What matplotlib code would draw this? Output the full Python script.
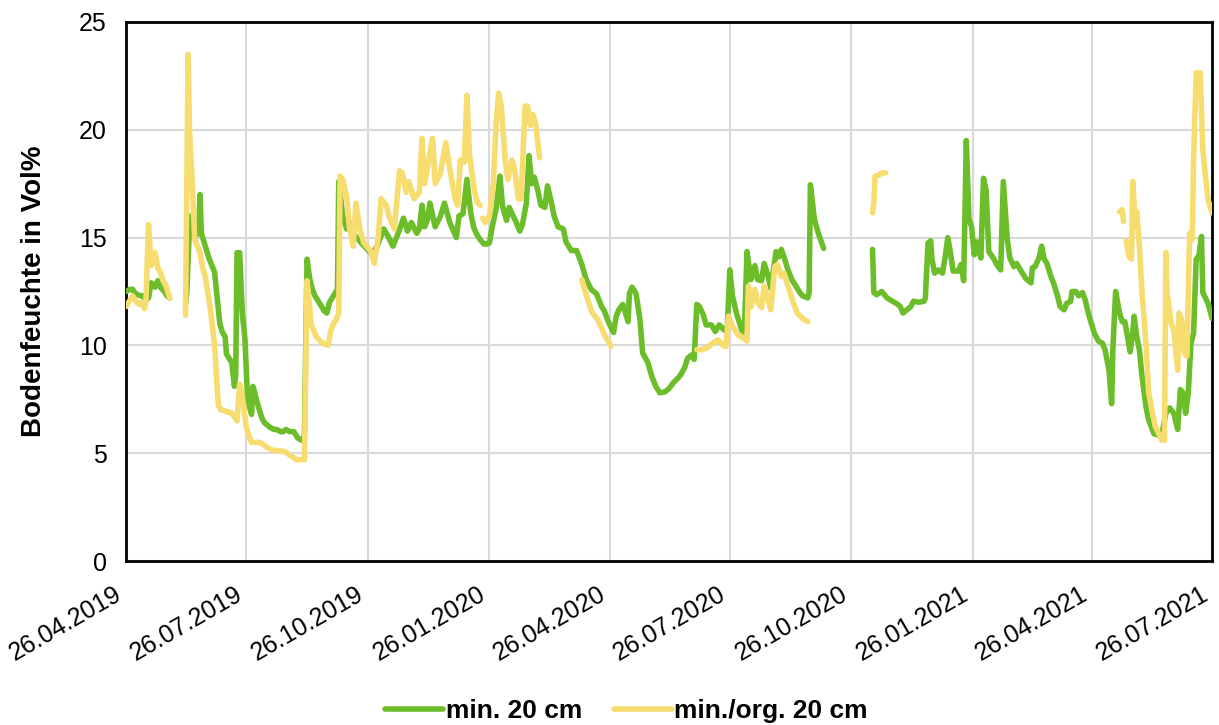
import numpy as np
import matplotlib
matplotlib.use("Agg")
import matplotlib.pyplot as plt
import matplotlib.dates as mdates
from datetime import date, timedelta

# x values: days since 26.04.2019, None in values = gap in the logger record
start = date(2019, 4, 26)

green_days = [0, 3, 5, 7, 9, 11, 13, 15, 17, 19, 21, 22, 24, 26, 29, 31, 33,
              39,
              45, 46, 48, 49, 52, 55, 56, 57, 60, 63, 67, 71, 73, 75, 76, 78, 80, 82, 83, 84, 86, 88,
              90, 92, 95, 96, 97, 99, 101, 103, 105, 109, 112, 114, 117, 119, 121, 124, 127, 130, 133, 135,
              137, 139, 141, 143, 147, 150, 152, 154, 157, 159, 160, 161, 164, 167, 169, 173, 176, 178,
              182, 185, 187, 190, 195, 198, 202, 206, 210, 213, 216, 220, 222, 224, 226, 228, 230, 234,
              238, 241, 245, 250, 252, 255, 258, 261, 263, 265, 268, 271, 273, 275, 277, 280, 283, 285,
              288, 290, 293, 295, 298, 300, 303, 305, 307, 309, 312, 314, 317, 319, 322, 324, 327, 331,
              333, 337, 341, 345, 348, 352, 356, 360, 362, 365, 369, 371, 373, 376, 378, 380, 381, 383,
              386, 389, 391, 395, 398, 401, 404, 408, 411, 414, 418, 420, 423, 425, 428, 430, 432, 434,
              437, 439, 443, 446, 449, 453, 455, 457, 459, 462, 466, 468, 470, 473, 476, 478, 481, 483,
              486, 488, 492, 494, 496, 498, 501, 504, 507, 510, 512, 516, 517, 518, 521, 524, 528,
              545,
              565, 566, 568, 572, 576, 580, 583, 586, 588, 591, 594, 596, 600, 604, 605, 607, 609, 610,
              612, 615, 618, 620, 622, 624, 626, 630, 632, 634, 636, 638, 640, 642, 644, 647, 649, 651,
              653, 657, 659, 662, 664, 667, 669, 672, 674, 677, 681, 685, 686, 688, 691, 693, 695, 697,
              700, 702, 705, 707, 710, 712, 715, 716, 719, 721, 724, 726, 729, 733, 736, 739, 741, 744,
              746, 747, 749, 752, 754, 756, 758, 760, 762, 763, 765, 767, 769, 772, 774, 778, 781, 784,
              787, 790, 793, 796, 798, 800, 802, 804, 806, 808, 810, 812, 814, 815, 819, 821, 822]
green_vals = [12.5, 12.6, 12.6, 12.4, 12.35, 12.3, 12.3, 12.1, 12.2, 12.9, 12.8, 12.7, 13.0, 12.7, 12.5, 12.3, 12.2,
              None,
              11.9, 12.5, 15.5, 16.0, 15.0, 15.3, 17.0, 15.2, 14.6, 14.0, 13.4, 11.0, 10.6, 10.4, 9.6, 9.4, 9.2, 8.1, 8.6, 14.3, 14.3, 11.5,
              10.3, 7.5, 6.8, 8.1, 7.9, 7.4, 7.0, 6.6, 6.4, 6.2, 6.1, 6.1, 6.0, 6.0, 6.1, 6.0, 6.0, 5.7, 5.6, 5.8,
              14.0, 13.1, 12.6, 12.3, 11.9, 11.6, 11.5, 12.0, 12.3, 12.5, 12.6, 17.6, 16.0, 15.4, 15.7, 15.1, 14.9, 14.75,
              14.5, 14.3, 14.3, 14.6, 15.4, 15.1, 14.6, 15.2, 15.9, 15.3, 15.7, 15.2, 15.4, 16.5, 15.5, 15.8, 16.6, 15.5,
              16.0, 16.6, 15.7, 15.0, 16.0, 16.1, 17.7, 16.1, 15.5, 15.2, 14.9, 14.7, 14.7, 14.75, 15.45, 16.3, 17.85, 16.45,
              15.8, 16.4, 16.0, 15.75, 15.3, 15.6, 16.6, 18.8, 17.5, 17.8, 17.1, 16.5, 16.4, 17.4, 16.6, 16.0, 15.5, 15.4,
              14.8, 14.4, 14.4, 13.75, 13.1, 12.6, 12.4, 11.8, 11.6, 11.1, 10.6, 11.35, 11.65, 11.9, 11.5, 11.1, 12.4, 12.7,
              12.4, 11.2, 9.65, 9.2, 8.55, 8.1, 7.8, 7.85, 8.0, 8.25, 8.5, 8.65, 9.0, 9.4, 9.55, 9.35, 11.9, 11.8,
              11.4, 10.95, 10.95, 10.65, 10.95, 10.7, 10.7, 13.5, 12.3, 11.5, 10.7, 10.6, 14.35, 13.05, 13.7, 13.05, 13.0, 13.8,
              13.2, 12.65, 14.35, 14.1, 14.45, 14.1, 13.5, 13.05, 12.75, 12.45, 12.3, 12.2, 12.45, 17.45, 15.85, 15.2, 14.5,
              None,
              14.45, 12.45, 12.35, 12.5, 12.2, 12.05, 11.95, 11.8, 11.5, 11.65, 11.8, 12.05, 12.0, 12.05, 12.2, 14.75, 14.85, 14.0,
              13.35, 13.5, 13.35, 14.1, 15.0, 14.3, 13.45, 13.45, 13.75, 13.0, 19.5, 15.85, 15.5, 14.2, 14.8, 14.05, 17.75, 17.2,
              14.35, 14.0, 13.75, 13.5, 17.6, 14.9, 14.05, 13.65, 13.8, 13.5, 13.1, 12.9, 13.6, 13.65, 14.05, 14.6, 14.0, 13.8,
              13.2, 12.9, 12.3, 11.8, 11.65, 11.95, 12.05, 12.5, 12.5, 12.3, 12.45, 12.1, 11.35, 10.55, 10.2, 10.1, 9.8, 8.85,
              7.3, 9.95, 12.5, 11.5, 11.1, 11.1, 10.4, 9.7, 10.6, 11.35, 10.4, 9.8, 8.55, 7.15, 6.55, 5.9, 5.85, 5.85,
              6.85, 7.1, 6.85, 6.1, 7.95, 7.8, 6.85, 7.8, 10.1, 10.55, 14.0, 14.15, 15.05, 12.45, 11.95, 11.5, 11.25]

yellow_days = [0, 2, 4, 5, 7, 8, 10, 12, 14, 15, 17, 19, 20, 22, 24, 26, 28, 30, 33,
               39,
               45, 47, 48, 50, 52, 54, 56, 58, 60, 62, 64, 67, 69, 70, 72, 74, 77, 79, 82, 84, 86, 87, 89,
               91, 93, 95, 98, 101, 104, 106, 109, 111, 115, 119, 122, 124, 127, 129, 132, 135,
               137, 139, 140, 142, 144, 147, 149, 153, 155, 157, 159, 161, 162, 164, 167, 169, 172, 174,
               177, 180, 182, 185, 188, 191, 193, 197, 199, 203, 207, 209, 212, 214, 218, 222, 224, 226,
               228, 232, 234, 238, 242, 245, 249, 251, 253, 256, 258, 260, 264, 266, 268,
               269,
               270, 272, 275, 278, 280, 282, 284, 287, 289, 292, 294, 297, 299, 302, 304, 306, 308, 310, 313,
               330,
               345, 347, 350, 353, 357, 360, 362, 365, 367,
               400,
               432, 436, 440, 444, 448, 452, 454, 456, 459, 463, 467, 470, 471, 473, 476, 478, 481, 483,
               486, 488, 491, 493, 496, 498, 501, 505, 508, 512, 516,
               540,
               565, 566, 567, 570, 572, 575,
               700,
               752, 754, 755,
               756,
               757, 759, 761, 762, 764, 765, 767, 769, 772, 774, 777, 779, 781, 784, 786, 787, 788, 791,
               793, 796, 797, 799, 801, 803, 805, 807, 808, 810, 813, 815, 817, 819, 822]
yellow_vals = [11.8, 12.0, 12.2, 12.3, 12.1, 12.0, 11.9, 12.0, 11.7, 12.0, 15.6, 13.7, 13.8, 14.3, 13.6, 13.4, 13.0, 12.8, 12.2,
               None,
               11.4, 23.5, 20.0, 17.7, 14.9, 14.6, 14.3, 13.6, 13.2, 12.4, 11.6, 10.0, 8.0, 7.2, 7.0, 7.0, 6.9, 6.9, 6.7, 6.5, 8.2, 8.0, 7.2,
               6.2, 5.8, 5.5, 5.5, 5.5, 5.4, 5.3, 5.2, 5.15, 5.1, 5.1, 5.0, 4.9, 4.8, 4.7, 4.7, 4.7,
               13.0, 11.8, 11.0, 10.7, 10.4, 10.2, 10.1, 10.0, 10.7, 11.0, 11.2, 11.5, 17.85, 17.7, 16.9, 15.5, 14.6, 16.6,
               15.4, 14.75, 14.6, 14.4, 13.8, 15.1, 16.8, 16.5, 16.0, 15.4, 18.1, 18.0, 17.1, 17.6, 16.8, 17.1, 19.6, 17.5,
               18.2, 19.6, 17.5, 18.0, 19.4, 18.2, 16.8, 16.5, 18.6, 18.5, 21.6, 18.8, 17.1, 16.6, 16.5,
               None,
               15.9, 15.7, 16.0, 17.5, 20.2, 21.7, 21.1, 18.6, 17.7, 18.6, 18.2, 16.8, 16.8, 21.1, 21.1, 20.2, 20.7, 20.3, 18.7,
               None,
               13.05, 12.6, 12.0, 11.5, 11.2, 10.8, 10.5, 10.2, 9.95,
               None,
               9.8, 9.8, 9.9, 10.1, 10.25, 10.0, 9.95, 11.35, 10.9, 10.5, 10.35, 10.2, 12.75, 11.8, 12.6, 12.0, 11.75, 12.75,
               12.1, 11.65, 13.65, 13.75, 13.2, 13.35, 12.75, 12.0, 11.5, 11.25, 11.1,
               None,
               16.15, 16.6, 17.85, 17.9, 18.0, 18.0,
               None,
               16.2, 16.3, 15.75,
               None,
               14.85, 14.15, 14.0, 17.6, 15.5, 16.2, 14.6, 12.45, 10.1, 7.8, 6.85, 6.25, 6.0, 5.6, 5.6, 14.3, 12.45, 11.05,
               10.7, 8.85, 11.5, 11.2, 9.65, 9.5, 15.2, 14.9, 18.6, 22.65, 22.65, 19.1, 17.85, 16.75, 16.15]

series_labels = ["min. 20 cm", "min./org. 20 cm"]
tick_dates = ["26.04.2019", "26.07.2019", "26.10.2019", "26.01.2020", "26.04.2020",
              "26.07.2020", "26.10.2020", "26.01.2021", "26.04.2021", "26.07.2021"]


def to_dates(days):
    return [start + timedelta(days=d) for d in days]


def main():
    plt.rcParams['font.family'] = ['Liberation Sans', 'DejaVu Sans']

    fig = plt.figure(figsize=(12.19, 7.25), dpi=100)
    ax = fig.add_axes([0.1034, 0.2262, 0.8909, 0.7435])

    gv = np.array(green_vals, dtype=float)
    yv = np.array(yellow_vals, dtype=float)

    ax.plot(to_dates(green_days), gv, color='#6BBD29', lw=4.0,
            solid_capstyle='round', solid_joinstyle='round', label=series_labels[0], zorder=3)
    ax.plot(to_dates(yellow_days), yv, color='#F7DC6F', lw=4.0,
            solid_capstyle='round', solid_joinstyle='round', label=series_labels[1], zorder=4)

    ticks = [date(int(t[6:]), int(t[3:5]), int(t[:2])) for t in tick_dates]
    ax.set_xticks(ticks)
    ax.xaxis.set_major_formatter(mdates.DateFormatter('%d.%m.%Y'))
    ax.set_xlim(ticks[0], ticks[-1])
    ax.set_ylim(0, 25)
    ax.set_yticks(range(0, 26, 5))

    ax.grid(True, color='#D9D9D9', lw=1.5)
    ax.set_axisbelow(True)
    ax.tick_params(length=0, labelsize=18)
    ax.tick_params(axis='y', pad=14)
    ax.tick_params(axis='x', pad=15)
    plt.setp(ax.get_xticklabels(), rotation=30, ha='right', va='top')

    for s in ['left', 'bottom', 'right', 'top']:
        ax.spines[s].set_color('black')
        ax.spines[s].set_linewidth(2)

    ax.set_ylabel('Bodenfeuchte in Vol%', fontsize=20, fontweight='bold')
    ax.yaxis.set_label_coords(-0.0727, 0.5)

    fig.legend(loc='center', bbox_to_anchor=(0.514, 0.019), ncol=2, frameon=False,
               prop={'size': 19, 'weight': 'bold'}, handlelength=2.2, columnspacing=1.2,
               handletextpad=0.1)

    fig.savefig('out.png', dpi=100)


if __name__ == '__main__':
    main()
